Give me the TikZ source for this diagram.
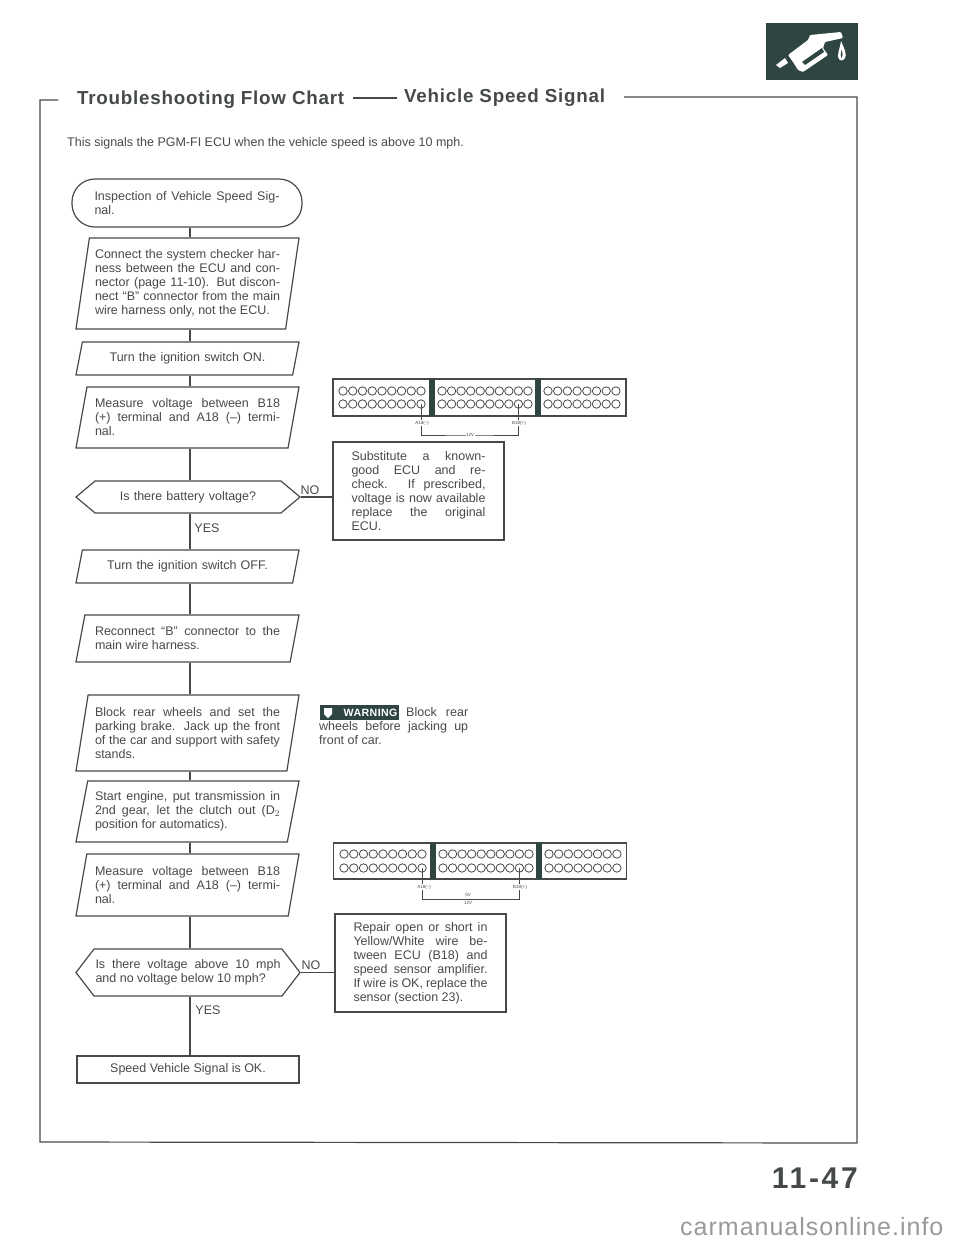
\documentclass[tikz,border=0pt]{standalone}
\usepackage{fontspec}
\setmainfont{Liberation Sans}
\newfontfamily\headfont[LetterSpace=4]{Liberation Sans}
\newfontfamily\pagefont[LetterSpace=9]{Liberation Sans}
\newfontfamily\markfont[LetterSpace=4]{Liberation Sans}
\usepackage{tikz}
\usetikzlibrary{positioning,shapes.geometric,shapes.symbols}
\definecolor{ink}{HTML}{454A49}
\definecolor{panel}{HTML}{2F4541}
\begin{document}
\begin{tikzpicture}[
    x=1pt,
    y=-1pt,
    font=\fontsize{12.5}{14}\selectfont,
    text=ink,
    line/.style={draw=ink, line width=1.2pt},
    wire/.style={draw=ink, line width=0.7pt},
    startbox/.style={
        line,
        rounded corners=23pt,
        minimum width=230,
        minimum height=48,
        inner sep=0pt,
        text width=185,
        align=justify
    },
    stepbox/.style={
        line,
        trapezium,
        trapezium stretches body=true,
        trapezium left angle={atan(#1/18)},
        trapezium right angle={180-atan(#1/18)},
        minimum width=223,
        minimum height=#1,
        inner sep=0pt,
        text width=185,
        align=justify
    },
    askbox/.style={
        line,
        signal,
        signal to=west and east,
        minimum width=224,
        inner sep=0pt,
        text width=185,
        align=justify
    },
    fixbox/.style={
        line,
        inner sep=0pt,
        text width=134,
        align=justify
    },
    endbox/.style={
        line,
        minimum width=222,
        minimum height=27,
        align=center
    },
    tag/.style={inner sep=0pt},
    tinytag/.style={inner sep=0.5pt, fill=white, font=\fontsize{4.5}{5}\selectfont},
    hole/.style={circle, draw=ink, line width=0.8pt, minimum size=8.4, inner sep=0pt},
    bar/.style={fill=panel, draw=none, minimum width=6, inner sep=0pt},
    ecu/.style={line, minimum width=293, minimum height=37}
]
\useasboundingbox (0,0) rectangle (960,1243);

% page frame and heading
\coordinate (spine) at (190,0);
\coordinate (framea) at (58,100);
\coordinate (frameb) at (624,97);
\coordinate (dasha) at (353,98);
\coordinate (dashb) at (397,98);
\draw[line] (framea) -- (40,100) -- (40,1142) -- (857,1143) -- (857,97) -- (frameb);
\draw[line] (dasha) -- (dashb);
\node[tag, anchor=west, font=\headfont\fontsize{18.8}{20}\bfseries] (head) at (77,100) {Troubleshooting Flow Chart};
\node[tag, anchor=west, font=\headfont\fontsize{18.8}{20}\bfseries] (headb) at (404,98) {Vehicle Speed Signal};
\node[tag, anchor=west] (lead) at (67,143) {This signals the PGM-FI ECU when the vehicle speed is above 10 mph.};

% fuel icon
\node[fill=panel, minimum width=92, minimum height=57, inner sep=0pt] (icon) at (812,51.5) {};
\fill[white] (776,65) -- (785,58) -- (788,63) -- (780,68) -- cycle;
\fill[white, rounded corners=1pt] (788,55) -- (808,40) -- (810,35) -- (841,32) -- (843,38) -- (825,42) -- (823,48) -- (828,55) -- (803,72) -- (798,70) -- (793,62) -- cycle;
\fill[panel] (802,62) -- (822,48) -- (824,52) -- (805,65) -- cycle;
\fill[white] (841,41) .. controls (845,50) and (847,55) .. (845,58) .. controls (843,62) and (838,61) .. (838,56) .. controls (838,52) and (840,48) .. (841,41) -- cycle;
\fill[panel] (841.5,50) .. controls (843,54) and (843,57) .. (841.5,58) .. controls (840.5,57) and (840.5,54) .. (841.5,50) -- cycle;

% main chain
\node[startbox] (inspect) at (187,203) {Inspection of Vehicle Speed Sig-\linebreak nal.};
\node[stepbox=91] (harness) at (187.5,283.5) {Connect the system checker har-\linebreak ness between the ECU and con-\linebreak nector (page 11-10). But discon-\linebreak nect ``B'' connector from the main\linebreak wire harness only, not the ECU.};
\node[stepbox=33, align=center] (ignon) at (187.5,358.5) {Turn the ignition switch ON.};
\node[stepbox=61] (measure) at (187.5,417.5) {Measure voltage between B18\linebreak (+) terminal and A18 (--) termi-\linebreak nal.};
\node[askbox, signal pointer angle=80, minimum height=32, align=center] (battery) at (188,497) {Is there battery voltage?};
\node[stepbox=33, align=center] (ignoff) at (187.5,566.5) {Turn the ignition switch OFF.};
\node[stepbox=47] (reconnect) at (187.5,638.5) {Reconnect ``B'' connector to the\linebreak main wire harness.};
\node[stepbox=76] (block) at (187.5,733) {Block rear wheels and set the\linebreak parking brake. Jack up the front\linebreak of the car and support with safety\linebreak stands.};
\node[stepbox=61] (engine) at (187.5,811.5) {Start engine, put transmission in\linebreak 2nd gear, let the clutch out (D$_2$\linebreak position for automatics).};
\node[stepbox=62] (measureb) at (187.5,885) {Measure voltage between B18\linebreak (+) terminal and A18 (--) termi-\linebreak nal.};
\node[askbox, signal pointer angle=105, minimum height=47] (speed) at (188,972.5) {Is there voltage above 10 mph\linebreak and no voltage below 10 mph?};
\node[endbox] (okay) at (188,1069.5) {Speed Vehicle Signal is OK.};

\draw[line] (inspect.south -| spine) -- (harness.north -| spine);
\draw[line] (harness.south -| spine) -- (ignon.north -| spine);
\draw[line] (ignon.south -| spine) -- (measure.north -| spine);
\draw[line] (measure.south -| spine) -- (battery.north -| spine);
\draw[line] (battery.south -| spine) -- (ignoff.north -| spine);
\draw[line] (ignoff.south -| spine) -- (reconnect.north -| spine);
\draw[line] (reconnect.south -| spine) -- (block.north -| spine);
\draw[line] (block.south -| spine) -- (engine.north -| spine);
\draw[line] (engine.south -| spine) -- (measureb.north -| spine);
\draw[line] (measureb.south -| spine) -- (speed.north -| spine);
\draw[line] (speed.south -| spine) -- (okay.north -| spine);

\node[tag] (yesa) at (207,528) {YES};
\node[tag] (yesb) at (208,1010) {YES};
\node[tag] (noa) at (310,490) {NO};
\node[tag] (nob) at (311,965) {NO};

% side boxes
\node[fixbox, minimum width=171, minimum height=98] (known) at (418.5,491) {Substitute a known-\linebreak good ECU and re-\linebreak check. If prescribed,\linebreak voltage is now available\linebreak replace the original\linebreak ECU.};
\node[fixbox, minimum width=171, minimum height=98] (repair) at (420.5,963) {Repair open or short in\linebreak Yellow/White wire be-\linebreak tween ECU (B18) and\linebreak speed sensor amplifier.\linebreak If wire is OK, replace the\linebreak sensor (section 23).};
\draw[line] (battery.east) -- (known.west |- battery.east);
\draw[line] (speed.east) -- (repair.west |- speed.east);

% upper test connector
\node[ecu] (ecua) at (479.5,397.5) {};
\node[bar, minimum height=37] (bara) at (432,397.5) {};
\node[bar, minimum height=37] (barb) at (538,397.5) {};
\foreach \i in {0,...,8} {
    \node[hole] (ah\i) at (343+9.75*\i,391) {};
    \node[hole] (al\i) at (343+9.75*\i,404) {};
}
\foreach \i in {0,...,9} {
    \node[hole] (bh\i) at (442+9.55*\i,391) {};
    \node[hole] (bl\i) at (442+9.55*\i,404) {};
}
\foreach \i in {0,...,7} {
    \node[hole] (ch\i) at (548+9.7*\i,391) {};
    \node[hole] (cl\i) at (548+9.7*\i,404) {};
}
\coordinate (loopa) at (470,435);
\draw[wire] (al8.center) |- (loopa) -| (bl8.center);
\node[tinytag] (mina) at (422,423) {A18(--)};
\node[tinytag] (plusa) at (519,423) {B18(+)};
\node[tinytag] (volta) at (470,435) {12V};

% lower test connector
\node[ecu, minimum height=36] (ecub) at (480,861) {};
\node[bar, minimum height=36] (barc) at (433,861) {};
\node[bar, minimum height=36] (bard) at (539,861) {};
\foreach \i in {0,...,8} {
    \node[hole] (dh\i) at (344+9.75*\i,854) {};
    \node[hole] (dl\i) at (344+9.75*\i,868) {};
}
\foreach \i in {0,...,9} {
    \node[hole] (eh\i) at (443+9.55*\i,854) {};
    \node[hole] (el\i) at (443+9.55*\i,868) {};
}
\foreach \i in {0,...,7} {
    \node[hole] (fh\i) at (549+9.7*\i,854) {};
    \node[hole] (fl\i) at (549+9.7*\i,868) {};
}
\coordinate (loopb) at (468,899);
\draw[wire] (dl8.center) |- (loopb) -| (el8.center);
\node[tinytag] (minb) at (424,887) {A18(--)};
\node[tinytag] (plusb) at (520,887) {B18(+)};
\node[tinytag, fill=none] (voltb) at (468,895) {0V};
\node[tinytag, fill=none] (voltc) at (468,903) {12V};

% warning note
\node[fill=panel, minimum width=79, minimum height=15, inner sep=0pt, text=white, font=\headfont\fontsize{10.6}{11}\bfseries, align=right, text width=76] (warn) at (359.5,712.5) {WARNING};
\fill[white] (324,708) -- (332,708) -- (332,714) -- (328,718) -- (324,714) -- cycle;
\node[tag, anchor=north west, text width=149, align=justify] (warntext) at (319,707) {\hspace*{87pt}Block rear\linebreak wheels before jacking up\linebreak front of car.};

% page number and mark
\node[tag, anchor=east, font=\pagefont\fontsize{30}{32}\bfseries] (pageno) at (858,1178) {11-47};
\node[tag, anchor=base west, text=black!40, font=\markfont\fontsize{25}{28}\selectfont] (mark) at (680,1235) {carmanualsonline.info};
\end{tikzpicture}
\end{document}
